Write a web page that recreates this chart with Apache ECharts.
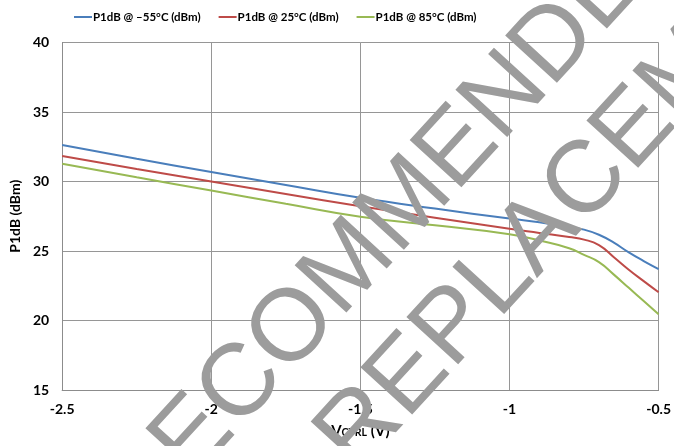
<!DOCTYPE html>
<html><head><meta charset="utf-8">
<script src="https://cdn.jsdelivr.net/npm/echarts@6/dist/echarts.min.js"></script>
<style>html,body{margin:0;padding:0;background:#fff}#c{width:674px;height:446px}</style>
</head><body><div id="c"></div>
<script>
// Control voltage (V)
const vctrl   = [-2.5, -2.25, -2, -1.75, -1.5, -1.25, -1, -0.9, -0.8, -0.75, -0.7, -0.65, -0.6, -0.55, -0.5];
// P1dB (dBm) per temperature
const p1dbM55 = [32.63, 31.63, 30.68, 29.75, 28.83, 28.05, 27.33, 27.07, 26.72, 26.54, 26.17, 25.60, 24.90, 24.28, 23.70];
const p1db25  = [31.83, 30.90, 30.00, 29.10, 28.22, 27.40, 26.60, 26.30, 26.00, 25.82, 25.42, 24.55, 23.65, 22.83, 22.03];
const p1db85  = [31.28, 30.30, 29.35, 28.40, 27.47, 26.85, 26.21, 25.75, 25.20, 24.72, 24.20, 23.30, 22.35, 21.40, 20.45];
const seriesNames = ['P1dB @ \u201355\u00B0C (dBm)', 'P1dB @ 25\u00B0C (dBm)', 'P1dB @ 85\u00B0C (dBm)'];
const xTicks = [-2.5, -2, -1.5, -1, -0.5];
const yTicks = [15, 20, 25, 30, 35, 40];
const watermarkWords = ['RECOMMENDED', 'REPLACEMENT'];

const colors = ['#4a7ebb', '#be4b48', '#98b954'];
const FONT = 'Lato, "Open Sans", sans-serif';

function pairs(ys) { return vctrl.map((x, i) => [x, ys[i]]); }
const allSeries = [p1dbM55, p1db25, p1db85];

const chart = echarts.init(document.getElementById('c'), null, { renderer: 'canvas' });
const rot = 47.5 * Math.PI / 180;
const wmStyle = (t) => ({
  text: t, font: '102px "Liberation Sans", Arial, sans-serif',
  fill: '#9c9c9c', blend: 'multiply',
  textAlign: 'left', textVerticalAlign: 'middle'
});
chart.setOption({
  animation: false,
  color: colors,
  textStyle: { fontFamily: FONT },
  legend: {
    top: 6, left: 69,
    itemWidth: 18, itemHeight: 2, itemGap: 18,
    icon: 'rect',
    textStyle: { fontFamily: FONT, fontWeight: 'bold', fontSize: 11.5, color: '#000', padding: [0, 0, 0, -4] },
    data: seriesNames
  },
  grid: { left: 60.5, right: 15, top: 42.5, bottom: 56 },
  xAxis: {
    type: 'value', min: xTicks[0], max: xTicks[xTicks.length - 1], interval: 0.5,
    axisLine: { show: true, lineStyle: { color: '#8c8c8c', width: 1 } },
    axisTick: { show: false },
    splitLine: { show: true, lineStyle: { color: '#969696', width: 1 } },
    axisLabel: { color: '#000', fontWeight: 'bold', fontSize: 14, fontFamily: FONT, margin: 12 },
    name: '{v|V}{s|CTRL}{v| (V)}',
    nameLocation: 'middle', nameGap: 34,
    nameTextStyle: {
      rich: {
        v: { fontSize: 15, fontWeight: 'bold', fontFamily: FONT, color: '#000', verticalAlign: 'bottom' },
        s: { fontSize: 10.5, fontWeight: 'bold', fontFamily: FONT, color: '#000', verticalAlign: 'bottom', padding: [0, 0, 1, 0] }
      }
    }
  },
  yAxis: {
    type: 'value', min: yTicks[0], max: yTicks[yTicks.length - 1], interval: 5,
    axisLine: { show: true, lineStyle: { color: '#8c8c8c', width: 1 } },
    axisTick: { show: false },
    splitLine: { show: true, lineStyle: { color: '#969696', width: 1 } },
    axisLabel: { color: '#000', fontWeight: 'bold', fontSize: 14, fontFamily: FONT, margin: 13 },
    name: 'P1dB (dBm)', nameLocation: 'middle', nameGap: 37, nameRotate: 90,
    nameTextStyle: { fontSize: 14, fontWeight: 'bold', fontFamily: FONT, color: '#000' }
  },
  series: allSeries.map((ys, i) => ({
    name: seriesNames[i], type: 'line', data: pairs(ys),
    smooth: 0.5, symbol: 'none', lineStyle: { width: 2, color: colors[i] }, z: 2
  })),
  graphic: [
    { type: 'text', x: 121, y: 517, rotation: rot, z: 100, silent: true, style: wmStyle(watermarkWords[0]) },
    { type: 'text', x: 336, y: 456, rotation: rot, z: 100, silent: true, style: wmStyle(watermarkWords[1]) }
  ]
});
</script></body></html>
